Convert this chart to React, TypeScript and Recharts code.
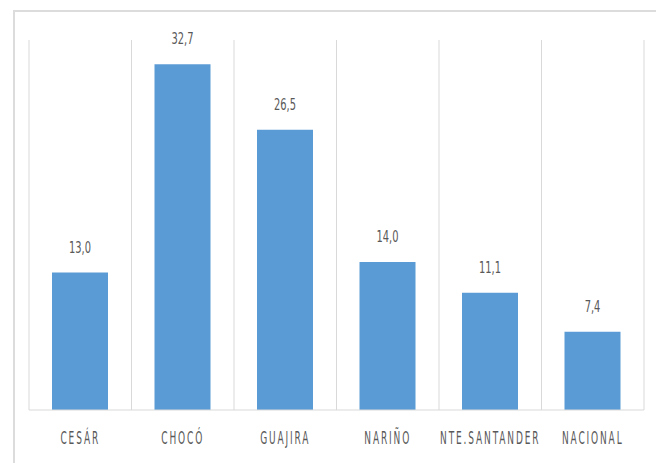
import { BarChart, Bar, XAxis, YAxis, CartesianGrid, LabelList } from 'recharts';

const regions = ['CESÁR', 'CHOCÓ', 'GUAJIRA', 'NARIÑO', 'NTE.SANTANDER', 'NACIONAL'];
const rates = [13.0, 32.7, 26.5, 14.0, 11.1, 7.4];
const gridTicks = [0, 1, 2, 3, 4, 5, 6];

const data = regions.map((name, i) => ({ name, value: rates[i], pos: i + 0.5 }));

const fontFamily = '"DejaVu Sans", sans-serif';
const textColor = '#595959';

// narrow, tall lettering like the original
const CategoryTick = ({ x, y, payload }: any) => (
  <g transform={`translate(${x},${y + 34})`}>
    <text transform="scale(0.53,1)" textAnchor="middle" fill={textColor} fontSize={17} fontFamily={fontFamily} letterSpacing={3.5}>
      {payload.value}
    </text>
  </g>
);

const ValueLabel = ({ x, y, width, value }: any) => (
  <g transform={`translate(${x + width / 2},${y - 20})`}>
    <text transform="scale(0.66,1)" textAnchor="middle" fill={textColor} fontSize={15} fontFamily={fontFamily}>
      {Number(value).toFixed(1).replace('.', ',')}
    </text>
  </g>
);

export default function App() {
  return (
    <div style={{ position: 'absolute', left: 0, top: 0, width: 656, height: 463, background: '#fff' }}>
      <div
        style={{
          position: 'absolute',
          left: 13,
          top: 10,
          right: 0,
          bottom: 0,
          borderTop: '2px solid #dcdcdc',
          borderLeft: '2px solid #dcdcdc',
        }}
      />
      <div style={{ position: 'absolute', left: 0, top: 0 }}>
        <BarChart width={656} height={463} data={data} margin={{ top: 40, right: 12, bottom: 23, left: 29 }}>
          <XAxis xAxisId="grid" type="number" dataKey="pos" domain={[0, 6]} ticks={gridTicks} height={0} hide />
          <CartesianGrid xAxisId="grid" horizontal={false} stroke="#d9d9d9" strokeWidth={1} />
          <XAxis
            dataKey="name"
            axisLine={{ stroke: '#d9d9d9' }}
            tickLine={false}
            tickSize={0}
            tickMargin={0}
            interval={0}
            height={30}
            tick={<CategoryTick />}
          />
          <YAxis domain={[0, 35]} hide />
          <Bar dataKey="value" fill="#5b9bd5" barSize={56} isAnimationActive={false}>
            <LabelList dataKey="value" content={<ValueLabel />} />
          </Bar>
        </BarChart>
      </div>
    </div>
  );
}
